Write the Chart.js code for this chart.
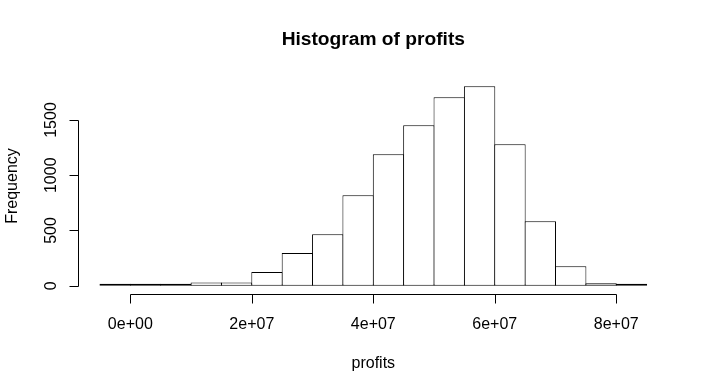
<!DOCTYPE html>
<html>
<head>
<meta charset="utf-8">
<title>Histogram of profits</title>
<script src="https://cdn.jsdelivr.net/npm/chart.js@4/dist/chart.umd.min.js"></script>
<style>
  body { margin: 0; background: #fff; }
  #wrap { width: 709px; height: 392px; }
</style>
</head>
<body>
<div id="wrap"><canvas id="myChart" width="709" height="392"></canvas></div>
<script>
// histogram bins (breaks) and counts
const breaks = [-5e6, 0, 5e6, 1e7, 1.5e7, 2e7, 2.5e7, 3e7, 3.5e7, 4e7, 4.5e7,
                5e7, 5.5e7, 6e7, 6.5e7, 7e7, 7.5e7, 8e7, 8.5e7];
const counts = [5, 6, 8, 30, 30, 124, 296, 465, 818, 1189, 1452,
                1705, 1805, 1280, 583, 176, 22, 5];

const xTicks = [0, 2e7, 4e7, 6e7, 8e7];
const xTickLabels = ['0e+00', '2e+07', '4e+07', '6e+07', '8e+07'];
const yTicks = [0, 500, 1000, 1500];
const yTickLabels = ['0', '500', '1000', '1500'];

const FONT = '"Liberation Sans", Arial, sans-serif';

// R extends the plot range by 4% on each side
var xLo = breaks[0], xHi = breaks[breaks.length - 1];
var yHi = Math.max.apply(null, counts);
var xPad = (xHi - xLo) * 0.04, yPad = yHi * 0.04;

var points = [];
counts.forEach(function (c, i) {
   points.push({ x: (breaks[i] + breaks[i + 1]) / 2, y: c });
});

// R style detached axes: line only from first to last tick
var rAxes = {
   id: 'rAxes',
   afterDraw: function (chart) {
      var ctx = chart.ctx;
      var xs = chart.scales.x, ys = chart.scales.y;
      var area = chart.chartArea;
      ctx.save();
      ctx.strokeStyle = '#000';
      ctx.fillStyle = '#000';
      ctx.lineWidth = 1;
      ctx.font = '16px ' + FONT;

      // x axis
      var y0 = Math.round(area.bottom) + 0.5;
      ctx.beginPath();
      ctx.moveTo(Math.round(xs.getPixelForValue(xTicks[0])) + 0.5, y0);
      ctx.lineTo(Math.round(xs.getPixelForValue(xTicks[xTicks.length - 1])) + 0.5, y0);
      xTicks.forEach(function (v) {
         var px = Math.round(xs.getPixelForValue(v)) + 0.5;
         ctx.moveTo(px, y0);
         ctx.lineTo(px, y0 + 9);
      });
      ctx.stroke();
      ctx.textAlign = 'center';
      ctx.textBaseline = 'alphabetic';
      xTicks.forEach(function (v, i) {
         ctx.fillText(xTickLabels[i], xs.getPixelForValue(v), y0 + 34.5);
      });

      // y axis
      var x0 = Math.round(area.left) + 0.5;
      ctx.beginPath();
      ctx.moveTo(x0, Math.round(ys.getPixelForValue(yTicks[0])) + 0.5);
      ctx.lineTo(x0, Math.round(ys.getPixelForValue(yTicks[yTicks.length - 1])) + 0.5);
      yTicks.forEach(function (v) {
         var py = Math.round(ys.getPixelForValue(v)) + 0.5;
         ctx.moveTo(x0, py);
         ctx.lineTo(x0 - 9, py);
      });
      ctx.stroke();
      yTicks.forEach(function (v, i) {
         ctx.save();
         ctx.translate(x0 - 23, ys.getPixelForValue(v));
         ctx.rotate(-Math.PI / 2);
         ctx.fillText(yTickLabels[i], 0, 0);
         ctx.restore();
      });
      ctx.restore();
   }
};

var ctx = document.getElementById('myChart').getContext('2d');

var myChart = new Chart(ctx, {
   type: 'bar',
   data: {
      datasets: [{
         label: 'profits',
         data: points,
         backgroundColor: '#ffffff',
         borderColor: '#000000',
         borderSkipped: false,
         borderWidth: 1,
         // a little over 1 so that neighbouring borders share one pixel
         barPercentage: 1.033,
         categoryPercentage: 1,
         inflateAmount: 0,
         minBarLength: 2
      }]
   },
   plugins: [rAxes],
   options: {
      responsive: false,
      animation: false,
      layout: { padding: { left: 0, right: 40.5, top: 0, bottom: 0 } },
      plugins: {
         legend: { display: false },
         tooltip: { enabled: false },
         title: {
            display: true,
            text: 'Histogram of profits',
            fullSize: false,
            color: '#000',
            font: { family: FONT, size: 19.2, weight: 'bold' },
            padding: { top: 28.3, bottom: 27 }
         }
      },
      scales: {
         x: {
            type: 'linear',
            offset: false,
            min: xLo - xPad,
            max: xHi + xPad,
            grid: { display: false },
            border: { display: false },
            ticks: { display: false },
            title: {
               display: true,
               text: 'profits',
               color: '#000',
               font: { family: FONT, size: 16 },
               padding: { top: 0, bottom: 18.4 }
            },
            afterFit: function (scale) { scale.height = 98.3; }
         },
         y: {
            min: -yPad,
            max: yHi + yPad,
            grid: { display: false },
            border: { display: false },
            ticks: { display: false },
            title: {
               display: true,
               text: 'Frequency',
               color: '#000',
               font: { family: FONT, size: 16 },
               padding: { top: 2.9, bottom: 0 }
            },
            afterFit: function (scale) { scale.width = 78.1; }
         }
      }
   }
});
</script>
</body>
</html>
